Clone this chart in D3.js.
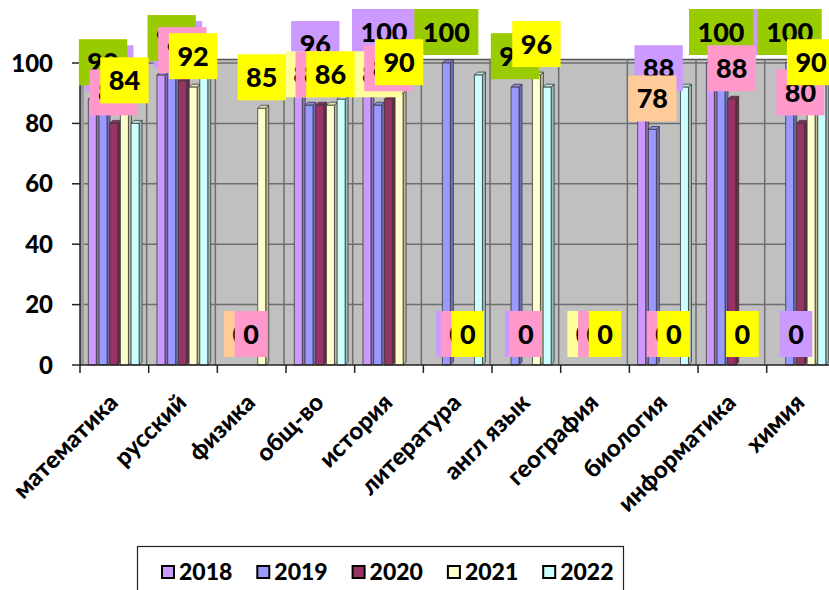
<!DOCTYPE html>
<html><head><meta charset="utf-8">
<script src="https://cdn.jsdelivr.net/npm/d3@7"></script>
<style>body{margin:0;background:#fff;} svg{display:block;font-family:Lato,'Open Sans',sans-serif;font-weight:900;}</style>
</head><body><svg id="c" width="829" height="590"></svg>
<script>
// ---- data ----
const categories = ["математика","русский","физика","общ-во","история","литература","англ язык","география","биология","информатика","химия"];
const years = ["2018","2019","2020","2021","2022"];
const v2018 = [88, 96, 0, 96, 100, 0, 0, 0, 88, 100, 0];
const v2019 = [90, 98, 0, 86, 86, 100, 92, 0, 78, 100, 100];
const v2020 = [80, 94, 0, 86, 88, 0, 0, 0, 0, 88, 80];
const v2021 = [84, 92, 85, 86, 90, 0, 96, 0, 0, 0, 90];
const v2022 = [80, 96, 0, 88, 0, 96, 92, 0, 92, 0, 100];
const yTicks = [0, 20, 40, 60, 80, 100];
const series = [v2018, v2019, v2020, v2021, v2022];

// ---- styles ----
const barColors = ["#cc99ff", "#9999ff", "#993366", "#ffffcc", "#ccffff"];
const labelColors = ["#cc99ff", "#99cc00", "#ff99cc", "#ffff00", null]; // 2022 has no labels
const label2019Colors = ["#99cc00","#99cc00","#ffcc99","#ffff99","#ffff99","#99cc00","#99cc00","#ffff99","#ffcc99","#99cc00","#99cc00"];
const labelDx = [17, 0, 0, 0, 0];

const svg = d3.select("#c");
const X0 = 80, Y0 = 365, YTOP = 63;
const x = d3.scaleBand().domain(categories).range([X0, X0 + 11 * 68.67]).paddingInner(0).paddingOuter(0);
const y = d3.scaleLinear().domain([0, 100]).range([Y0, YTOP]);
const bw = x.bandwidth();
const slot = 10.7, barW = 8, depth = 3, startOff = 8.3;

// wall
svg.append("rect").attr("x", X0).attr("y", 59).attr("width", 829 - X0).attr("height", Y0 - 59).attr("fill", "#c0c0c0");
svg.append("rect").attr("x", X0).attr("y", 59).attr("width", 4).attr("height", Y0 - 59).attr("fill", "#9a9a9a");
// horizontal gridlines
svg.append("g").selectAll("line").data(yTicks.filter(t => t > 0)).join("line")
  .attr("x1", X0 + 4).attr("x2", 829).attr("y1", d => y(d)).attr("y2", d => y(d))
  .attr("stroke", "#6e6e6e").attr("stroke-width", 1.5);
svg.append("line").attr("x1", X0).attr("x2", 829).attr("y1", 59.5).attr("y2", 59.5).attr("stroke", "#555").attr("stroke-width", 1.5);
// vertical category gridlines
svg.append("g").selectAll("line").data(categories.slice(1)).join("line")
  .attr("x1", d => x(d) - 2).attr("x2", d => x(d) - 2).attr("y1", 59).attr("y2", Y0)
  .attr("stroke", "#6e6e6e").attr("stroke-width", 1.5);

// bars
const barsG = svg.append("g");
series.forEach((vals, si) => {
  const c = barColors[si];
  const side = d3.color(c).darker(0.9).formatHex();
  const top = d3.color(c).darker(0.3).formatHex();
  categories.forEach((cat, ci) => {
    const v = vals[ci];
    if (!v) return;
    const x0 = x(cat) + startOff + si * slot;
    const yt = y(v);
    const g = barsG.append("g").attr("stroke", "#3a3a3a").attr("stroke-width", 0.8).attr("stroke-linejoin", "round");
    g.append("polygon").attr("points", [[x0 + barW, yt], [x0 + barW + depth, yt - depth], [x0 + barW + depth, Y0 - depth], [x0 + barW, Y0]].join(" ")).attr("fill", side);
    g.append("polygon").attr("points", [[x0, yt], [x0 + depth, yt - depth], [x0 + barW + depth, yt - depth], [x0 + barW, yt]].join(" ")).attr("fill", top);
    g.append("rect").attr("x", x0).attr("y", yt).attr("width", barW).attr("height", Y0 - yt).attr("fill", c);
  });
});

// axes
svg.append("line").attr("x1", X0).attr("x2", 829).attr("y1", Y0).attr("y2", Y0).attr("stroke", "#222").attr("stroke-width", 1.5);
svg.append("line").attr("x1", X0).attr("x2", X0).attr("y1", 59).attr("y2", Y0).attr("stroke", "#222").attr("stroke-width", 1.5);
svg.append("g").selectAll("line").data(yTicks).join("line")
  .attr("x1", X0 - 8).attr("x2", X0).attr("y1", d => y(d)).attr("y2", d => y(d)).attr("stroke", "#222").attr("stroke-width", 1.5);
svg.append("g").selectAll("text").data(yTicks).join("text")
  .attr("x", 53).attr("y", d => y(d)).attr("dy", "0.36em").attr("text-anchor", "end")
  .attr("font-size", 24).attr("fill", "#000").text(d => d);
svg.append("g").selectAll("line").data(categories.concat(["end"])).join("line")
  .attr("x1", (d, i) => X0 + i * bw).attr("x2", (d, i) => X0 + i * bw).attr("y1", Y0).attr("y2", Y0 + 8)
  .attr("stroke", "#222").attr("stroke-width", 1.5);
svg.append("g").selectAll("text").data(categories).join("text")
  .attr("transform", d => `translate(${x(d) + bw / 2 + 5},${404}) rotate(-45)`)
  .attr("text-anchor", "end").attr("font-size", 24).attr("fill", "#000").text(d => d);

// data labels
const labG = svg.append("g");
series.forEach((vals, si) => {
  if (!labelColors[si]) return;
  categories.forEach((cat, ci) => {
    const v = vals[ci];
    const cx = x(cat) + startOff + si * slot + barW / 2 + labelDx[si];
    const bottom = y(v) - 8;
    const g = labG.append("g");
    const bg = g.append("rect");
    const t = g.append("text").attr("x", cx).attr("y", bottom - 23).attr("dy", "0.36em")
      .attr("text-anchor", "middle").attr("font-size", 27).attr("fill", "#000").text(v);
    const w = t.node().getComputedTextLength() + 17;
    const fill = si === 1 ? label2019Colors[ci] : labelColors[si];
    bg.attr("x", cx - w / 2).attr("y", bottom - 46).attr("width", w).attr("height", 46).attr("fill", fill);
  });
});

// legend
const lg = svg.append("g");
lg.append("rect").attr("x", 137.5).attr("y", 546.5).attr("width", 486).attr("height", 60).attr("fill", "#fff").attr("stroke", "#222").attr("stroke-width", 1.2);
years.forEach((yr, i) => {
  const lx = 162 + i * 95.3;
  lg.append("rect").attr("x", lx).attr("y", 566).attr("width", 12).attr("height", 12).attr("fill", barColors[i]).attr("stroke", "#000").attr("stroke-width", 2);
  lg.append("text").attr("x", lx + 17).attr("y", 572).attr("dy", "0.36em").attr("font-size", 23).attr("fill", "#000").text(yr);
});
</script></body></html>
